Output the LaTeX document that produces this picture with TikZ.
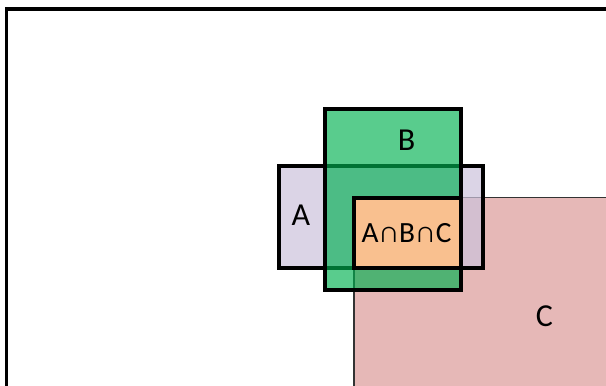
\documentclass[tikz,border=0pt]{standalone}
\usepackage{fontspec}
\setmainfont{Carlito}
\definecolor{apurple}{RGB}{204,194,220}
\definecolor{bgreen}{RGB}{0,176,80}
\definecolor{cpink}{RGB}{230,184,183}
\definecolor{orangebox}{RGB}{249,192,143}
\tikzset{
  setbox/.style={draw=black,line width=2.4pt},
  lbl/.style={anchor=base,inner sep=0pt,font=\fontsize{24}{24}\selectfont},
  ilbl/.style={anchor=base,inner sep=0pt,font=\fontsize{22}{22}\selectfont}
}
\begin{document}
\begin{tikzpicture}[x=0.75pt,y=-0.75pt]
\useasboundingbox (0,0) rectangle (606,385);
\begin{scope}
  \clip (0,0) rectangle (606,385);
  \draw[line width=2.4pt] (6.5,400) -- (6.5,9) -- (620,9);
  \fill[cpink] (354,197.5) rectangle (620,400);
  \draw[line width=1.3pt, black!80] (354,400) -- (354,197.5) -- (620,197.5);
\end{scope}
\path[setbox, fill=apurple, fill opacity=0.7] (279,166) rectangle (483,268);
\path[setbox, fill=bgreen, fill opacity=0.65] (325,109) rectangle (461,290);
\path[setbox, fill=orangebox] (354,198) rectangle (461,268);
\node[lbl] (lb) at (406.5,150) {B};
\node[lbl] (la) at (301,225) {A};
\node[lbl] (lc) at (544.5,326) {C};
\node[ilbl] (labc) at (406.5,242.5) {A∩B∩C};
\end{tikzpicture}
\end{document}
